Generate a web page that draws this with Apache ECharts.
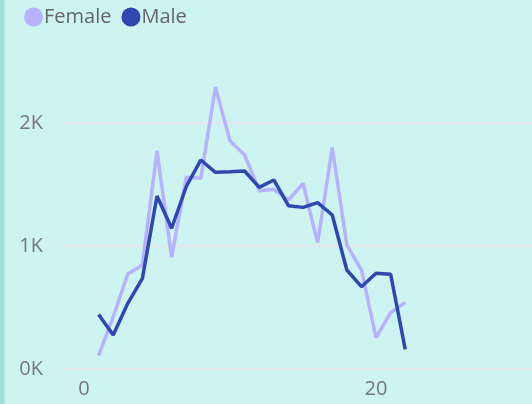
<!DOCTYPE html>
<html>
<head>
<meta charset="utf-8">
<script src="https://cdn.jsdelivr.net/npm/echarts@6/dist/echarts.min.js"></script>
<style>
  html, body { margin: 0; padding: 0; background: #cdf4f0; }
  #chart { width: 532px; height: 404px; }
</style>
</head>
<body>
<div id="chart"></div>
<script>
const ages = [1, 2, 3, 4, 5, 6, 7, 8, 9, 10, 11, 12, 13, 14, 15, 16, 17, 18, 19, 20, 21, 22];
const female = [108, 425, 772, 846, 1772, 908, 1558, 1550, 2290, 1854, 1740, 1450, 1461, 1374, 1509, 1027, 1800, 1008, 805, 255, 458, 542];
const male = [444, 276, 534, 737, 1406, 1144, 1482, 1699, 1599, 1604, 1610, 1477, 1537, 1328, 1314, 1352, 1252, 805, 669, 778, 770, 160];
const xTicks = [0, 20];
const yTicks = [0, 1000, 2000];

const pair = (vals) => ages.map((a, i) => [a, vals[i]]);

const chart = echarts.init(document.getElementById("chart"));
chart.setOption({
  backgroundColor: "#cdf4f0",
  animation: false,
  textStyle: { fontFamily: "Open Sans" },
  graphic: [
    { type: "rect", left: 0, top: 0, shape: { width: 4, height: 404 }, style: { fill: "#9fded8" } },
    { type: "rect", left: 4, top: 0, shape: { width: 2, height: 404 }, style: { fill: "#b6eae5" } },
  ],
  legend: {
    left: 19,
    top: 2,
    icon: "circle",
    itemWidth: 19,
    itemHeight: 19,
    itemGap: 10,
    textStyle: { color: "#666", fontSize: 20, padding: [0, 0, 0, -4] },
    data: ["Female", "Male"],
  },
  grid: { left: 63, right: 0, top: 61.5, bottom: 35 },
  xAxis: {
    type: "value",
    min: -1.438,
    max: 30.68,
    axisLine: { show: false },
    axisTick: { show: false },
    splitLine: { show: false },
    axisLabel: { customValues: xTicks, color: "#777", fontSize: 20, margin: 10 },
  },
  yAxis: {
    type: "value",
    min: 0,
    max: 2500,
    interval: 1000,
    axisLine: { show: false },
    axisTick: { show: false },
    splitLine: { show: true, showMaxLine: false, lineStyle: { color: "#e4e8e8", width: 2 } },
    axisLabel: {
      customValues: yTicks,
      color: "#777",
      fontSize: 20,
      margin: 20,
      formatter: (v) => v / 1000 + "K",
    },
  },
  series: [
    {
      name: "Female",
      type: "line",
      showSymbol: false,
      symbol: "circle",
      itemStyle: { color: "#b7b2ff" },
      lineStyle: { width: 3.5, color: "#b7b2ff" },
      data: pair(female),
    },
    {
      name: "Male",
      type: "line",
      showSymbol: false,
      symbol: "circle",
      itemStyle: { color: "#2f47b0" },
      lineStyle: { width: 3.5, color: "#2f47b0" },
      data: pair(male),
    },
  ],
});
</script>
</body>
</html>
